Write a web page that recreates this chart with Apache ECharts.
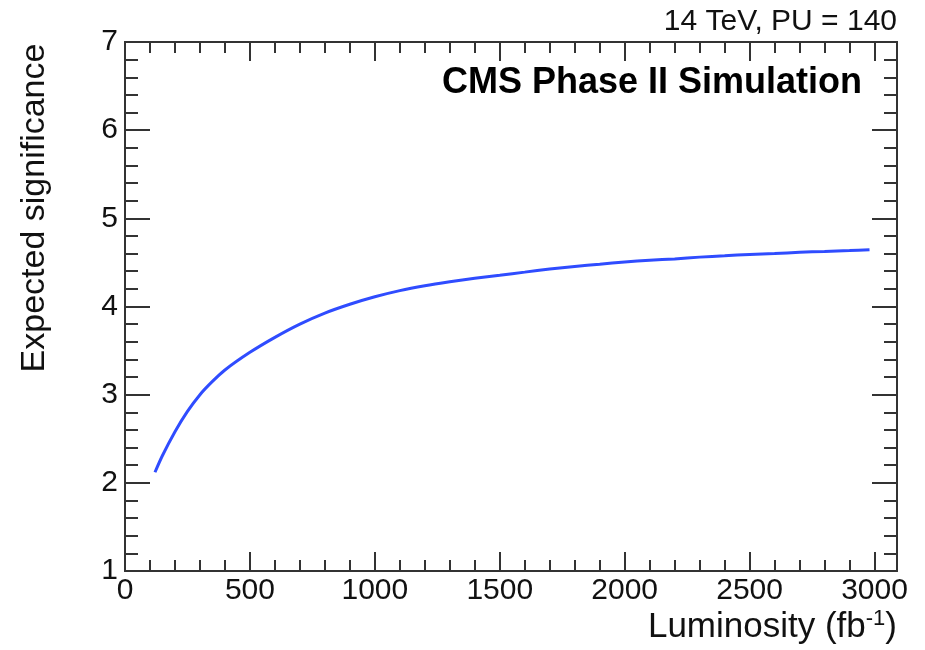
<!DOCTYPE html>
<html>
<head>
<meta charset="utf-8">
<script src="https://cdn.jsdelivr.net/npm/echarts@6/dist/echarts.min.js"></script>
<style>
  html, body { margin: 0; padding: 0; background: #fff; }
  #chart { width: 925px; height: 650px; }
</style>
</head>
<body>
<div id="chart"></div>
<script>
  // luminosity in fb^-1
  var luminosity = [120, 150, 200, 250, 300, 350, 400, 500, 600, 700, 800, 900, 1000,
                    1100, 1200, 1300, 1400, 1500, 1600, 1700, 1800, 1900, 2000,
                    2100, 2200, 2300, 2400, 2500, 2600, 2700, 2800, 2900, 2980]
  var significance = [2.12, 2.31, 2.58, 2.81, 3.00, 3.15, 3.28, 3.48, 3.65, 3.80, 3.925, 4.025, 4.11,
                      4.18, 4.235, 4.28, 4.32, 4.355, 4.39, 4.425, 4.455, 4.48, 4.505,
                      4.525, 4.54, 4.56, 4.575, 4.59, 4.60, 4.615, 4.625, 4.635, 4.645]
  var xTicks = [0, 500, 1000, 1500, 2000, 2500, 3000]
  var yTicks = [1, 2, 3, 4, 5, 6, 7]

  var font = 'Liberation Sans, Arial, Helvetica, sans-serif'
  var axisColor = '#333'
  var chart = echarts.init(document.getElementById('chart'))

  // x axes: major ticks (500) and minor ticks (100), on bottom and top
  function xAxis(pos, step, len, labels) {
    return {
      type: 'value', position: pos, min: xTicks[0], max: 3090, interval: step,
      axisLine: { show: true, onZero: false, lineStyle: { color: axisColor, width: 2 } },
      axisTick: { show: true, inside: true, length: len, lineStyle: { color: axisColor, width: 2 } },
      axisLabel: { show: labels, margin: 5, showMaxLabel: false, color: '#111', fontSize: 30, fontFamily: font,
                   formatter: function (v) { return String(v) } },
      splitLine: { show: false }
    }
  }
  function yAxis(pos, labels) {
    return {
      type: 'value', position: pos, min: yTicks[0], max: yTicks[yTicks.length - 1], interval: 1,
      axisLine: { show: true, onZero: false, lineStyle: { color: axisColor, width: 2 } },
      axisTick: { show: true, inside: true, length: 25, lineStyle: { color: axisColor, width: 2 } },
      minorTick: { show: true, splitNumber: 5, length: 13, lineStyle: { color: axisColor, width: 2 } },
      axisLabel: { show: labels, margin: 7, color: '#111', fontSize: 30, fontFamily: font },
      splitLine: { show: false }
    }
  }

  var option = {
    backgroundColor: '#fff',
    animation: false,
    grid: { left: 125, right: 28, top: 42, bottom: 79 },
    xAxis: [
      xAxis('bottom', 500, 19, true),
      xAxis('bottom', 100, 11, false),
      xAxis('top', 500, 19, false),
      xAxis('top', 100, 11, false)
    ],
    yAxis: [yAxis('left', true), yAxis('right', false)],
    series: [{
      type: 'line',
      xAxisIndex: 0,
      yAxisIndex: 0,
      data: luminosity.map(function (l, i) { return [l, significance[i]] }),
      smooth: 0.3,
      showSymbol: false,
      lineStyle: { color: '#2f4cff', width: 3 }
    }],
    graphic: [
      {
        type: 'text', right: 28, top: 7,
        style: { text: '14 TeV, PU = 140', fill: '#111', font: '30px ' + font }
      },
      {
        type: 'text', right: 63, top: 65,
        style: { text: 'CMS Phase II Simulation', fill: '#000', font: 'bold 36px ' + font }
      },
      {
        type: 'text', x: 35, y: 208, rotation: Math.PI / 2,
        style: { text: 'Expected significance', fill: '#111', font: '34px ' + font,
                 align: 'center', verticalAlign: 'middle' }
      },
      {
        type: 'text', right: 28, top: 608,
        style: {
          text: 'Luminosity (fb{sup|-1})',
          fill: '#111', font: '35px ' + font,
          rich: { sup: { fontSize: 22, fontFamily: font, fill: '#111', verticalAlign: 'top', padding: [0, 0, 16, 0] } }
        }
      }
    ]
  }
  chart.setOption(option)
</script>
</body>
</html>
